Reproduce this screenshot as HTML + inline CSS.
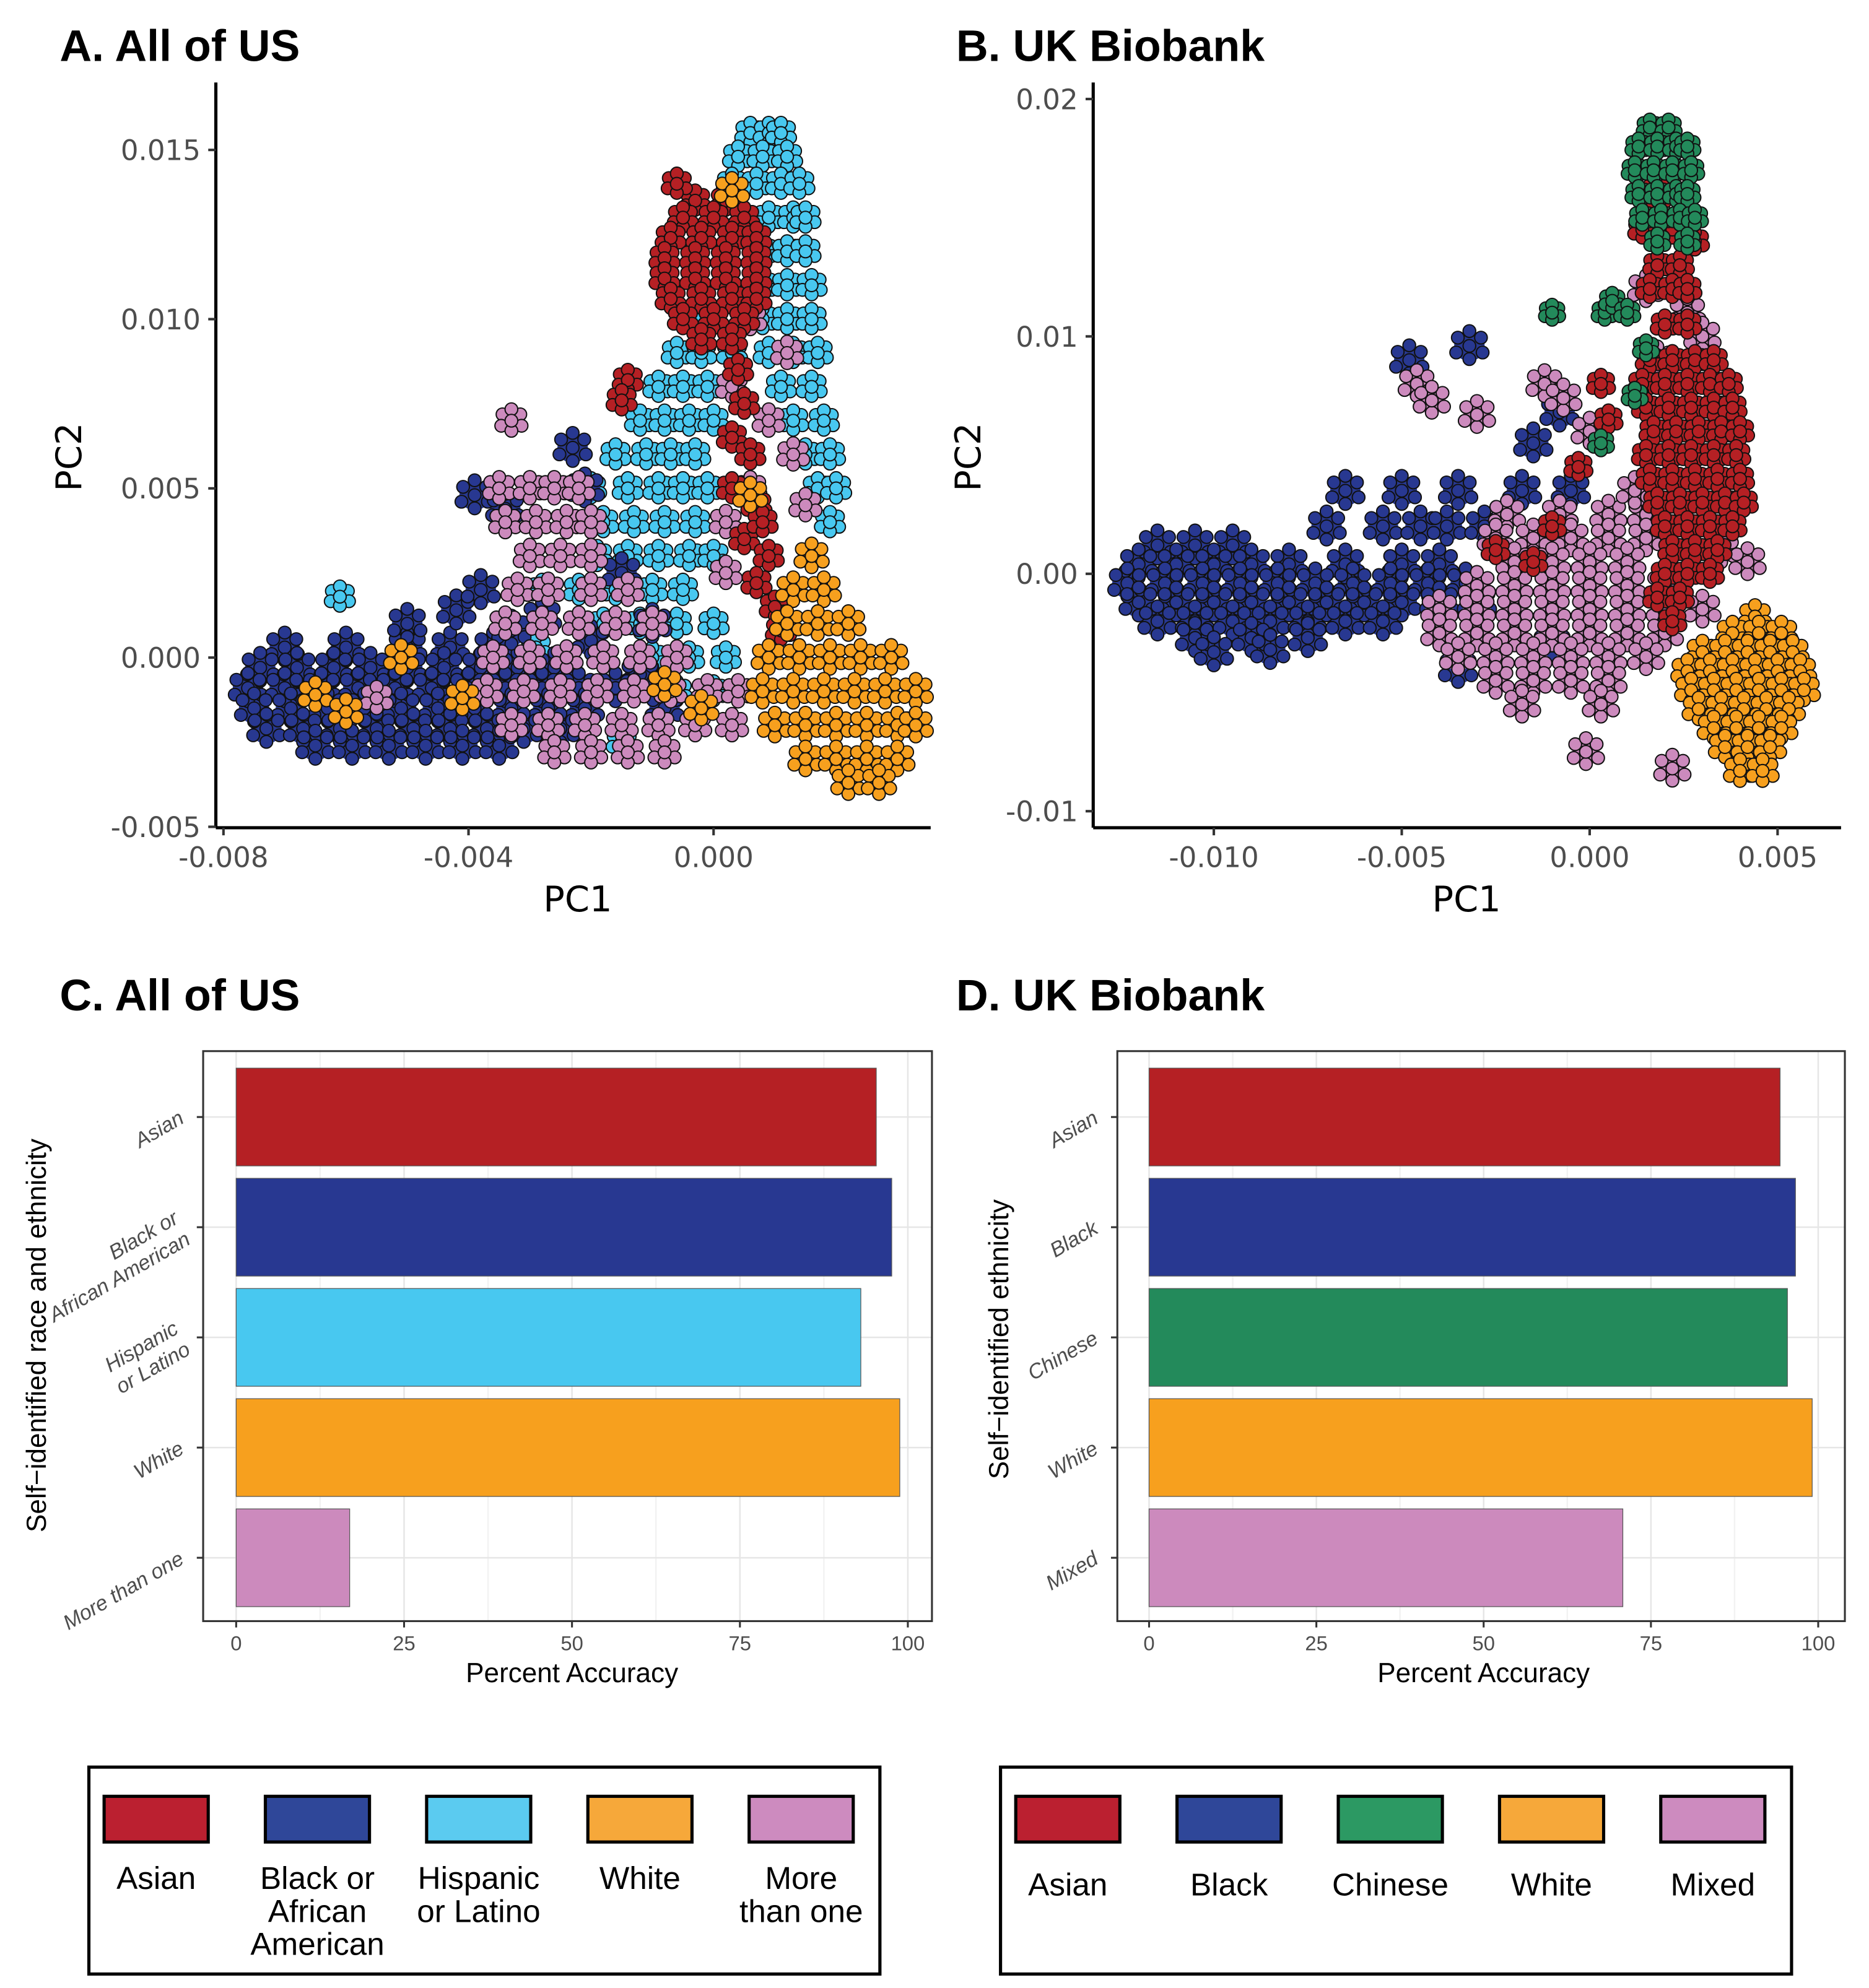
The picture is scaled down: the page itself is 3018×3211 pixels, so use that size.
<!DOCTYPE html>
<html><head><meta charset="utf-8"><style>
html,body{margin:0;padding:0;background:#fff;}
svg{display:block;font-family:"Liberation Sans",sans-serif;}
</style></head><body>
<svg id="fig" xmlns="http://www.w3.org/2000/svg" width="3018" height="3211" viewBox="0 0 1472 1566" preserveAspectRatio="none">
<rect x="0" y="0" width="1472" height="1566" fill="#fff"/>
<g id="pA"></g>
<g id="pB"></g>
<g id="pC"></g>
<g id="pD"></g>
<g id="lg"></g>
</svg>
<script>
// ===== Panel A data (PC values in units of 1e-3) =====
const aTicksX = [-8, -4, 0];
const aTickLabelsX = ["-0.008", "-0.004", "0.000"];
const aTicksY = [-5, 0, 5, 10, 15];
const aTickLabelsY = ["-0.005", "0.000", "0.005", "0.010", "0.015"];
const aCyan = [[0.6,15.5],[0.9,15.5],[1.1,15.5],[0.4,14.8],[0.8,14.8],[1.2,14.8],[0.3,14],[0.7,14],[1.1,14],[1.4,14],[0.5,13],[0.9,13],[1.3,13],[1.5,13],[0.8,12],[1.2,12],[1.5,12],[0.8,11],[1.2,11],[1.6,11],[-0.3,10],[0.8,10],[1.2,10],[1.6,10],[-0.6,9],[-0.2,9],[0.3,9],[0.9,9],[1.3,9],[1.7,9],[-0.9,8],[-0.5,8],[-0.1,8],[0.3,8],[1.1,8],[1.6,8],[-1.2,7],[-0.8,7],[-0.4,7],[0,7],[1.3,7],[1.8,7],[-1.6,6],[-1.1,6],[-0.7,6],[-0.3,6],[1.5,6],[1.9,6],[-2,5],[-1.4,5],[-0.9,5],[-0.5,5],[-0.1,5],[1.7,5],[2,5],[-2.4,4],[-1.8,4],[-1.3,4],[-0.8,4],[-0.3,4],[1.9,4],[-2.5,3],[-1.9,3],[-1.4,3],[-0.9,3],[-0.4,3],[0,3],[-2.8,2],[-2.2,2],[-1.6,2],[-1,2],[-0.5,2],[-1.8,1],[-1.2,1],[-0.6,1],[0,1],[-1,0],[-0.4,0],[0.2,0],[-0.6,-1],[0,-1],[-1.5,-2.5],[-3.5,-2.6],[-6.1,1.8],[-2.9,0.3]];
const aNavy = [[-7,0.3],[-6,0.3],[-5,0.3],[-4.3,0.3],[-3.6,0.3],[-7.4,-0.3],[-6.8,-0.3],[-6.2,-0.3],[-5.6,-0.3],[-5,-0.3],[-4.4,-0.3],[-3.8,-0.3],[-3.2,-0.3],[-2.6,-0.3],[-7.6,-0.9],[-7,-0.9],[-6.4,-0.9],[-5.8,-0.9],[-5.2,-0.9],[-4.6,-0.9],[-4,-0.9],[-3.4,-0.9],[-2.8,-0.9],[-2.2,-0.9],[-1.6,-0.9],[-7.5,-1.5],[-6.9,-1.5],[-6.3,-1.5],[-5.7,-1.5],[-5.1,-1.5],[-4.5,-1.5],[-3.9,-1.5],[-3.3,-1.5],[-2.7,-1.5],[-2.1,-1.5],[-7.3,-2.1],[-6.7,-2.1],[-6.1,-2.1],[-5.5,-2.1],[-4.9,-2.1],[-4.3,-2.1],[-3.7,-2.1],[-3.1,-2.1],[-2.5,-2.1],[-6.5,-2.6],[-5.9,-2.6],[-5.3,-2.6],[-4.7,-2.6],[-4.1,-2.6],[-3.5,-2.6],[-5,1],[-4.2,1.4],[-3.8,2],[-2.8,1.2],[-3.3,0.8],[-2,0.5],[-3.9,4.8],[-3.4,4.4],[-2.3,6.2],[-2.1,5],[-1.5,2.5],[-1,1],[-1.2,-0.5],[-0.8,-1.5]];
const aPink = [[-3.3,7],[-3.5,5],[-3,5],[-2.6,5],[-2.2,5],[-3.4,4],[-2.9,4],[-2.4,4],[-2,4],[-3,3],[-2.5,3],[-2,3],[-3.2,2],[-2.7,2],[-2,2],[-1.4,2],[-3.4,1],[-2.8,1],[-2.2,1],[-1.6,1],[-1,1],[-3.6,0],[-3,0],[-2.4,0],[-1.8,0],[-1.2,0],[-0.6,0],[-3.7,-1],[-3.1,-1],[-2.5,-1],[-1.9,-1],[-1.3,-1],[-0.7,-1],[-0.1,-1],[0.4,-1],[-3.3,-2],[-2.7,-2],[-2.1,-2],[-1.5,-2],[-0.9,-2],[-0.3,-2],[0.3,-2],[-2.6,-2.8],[-2,-2.8],[-1.4,-2.8],[-0.8,-2.8],[0.3,8],[0.9,7],[1.3,6],[0.6,5],[1.5,4.5],[0.2,4],[1.6,3],[0.2,2.5],[1.8,2],[0.6,10],[1.2,9],[-5.5,-1.2]];
const aRed = [[-0.3,13.5],[0.2,13.5],[-0.5,13],[0,13],[0.5,13],[-0.7,12.4],[-0.2,12.4],[0.3,12.4],[0.7,12.4],[-0.8,11.8],[-0.3,11.8],[0.2,11.8],[0.7,11.8],[-0.8,11.2],[-0.3,11.2],[0.2,11.2],[0.7,11.2],[-0.7,10.6],[-0.2,10.6],[0.3,10.6],[0.7,10.6],[-0.5,10],[0,10],[0.5,10],[-0.2,9.4],[0.3,9.4],[0.4,8.5],[0.5,7.5],[0.3,6.5],[0.6,6],[0.3,5],[0.7,4.5],[0.5,3.5],[0.9,3],[0.7,2.2],[1,1.5],[1.1,0.8],[0.8,4],[-1.4,8.2],[-1.5,7.6],[-0.6,14]];
const aOrange = [[1.6,3],[1.3,2],[1.8,2],[1.2,1],[1.7,1],[2.2,1],[0.9,0],[1.4,0],[1.9,0],[2.4,0],[2.9,0],[0.8,-1],[1.3,-1],[1.8,-1],[2.3,-1],[2.8,-1],[3.3,-1],[1,-2],[1.5,-2],[2,-2],[2.5,-2],[3,-2],[3.3,-2],[1.5,-3],[2,-3],[2.5,-3],[3,-3],[2.2,-3.7],[2.7,-3.7],[-0.2,-1.5],[-0.8,-0.8],[-6.5,-1.1],[-6,-1.6],[-5.1,0],[-4.1,-1.2],[0.3,13.8],[0.6,4.8]];

// ===== Panel B data (PC values in units of 1e-3) =====
const bTicksX = [-10, -5, 0, 5];
const bTickLabelsX = ["-0.010", "-0.005", "0.000", "0.005"];
const bTicksY = [-10, 0, 10, 20];
const bTickLabelsY = ["-0.01", "0.00", "0.01", "0.02"];
const bNavy = [[-11.5,1.2],[-10.5,1.2],[-9.5,1.2],[-12,0.4],[-11,0.4],[-10,0.4],[-9,0.4],[-8,0.4],[-6.5,0.4],[-5,0.4],[-4,0.4],[-12.3,-0.4],[-11.3,-0.4],[-10.3,-0.4],[-9.3,-0.4],[-8.3,-0.4],[-7.3,-0.4],[-6.3,-0.4],[-5.3,-0.4],[-4.3,-0.4],[-3.3,-0.4],[-12,-1.2],[-11,-1.2],[-10,-1.2],[-9,-1.2],[-8,-1.2],[-7,-1.2],[-6,-1.2],[-5,-1.2],[-4,-1.2],[-3,-1.2],[-11.5,-2],[-10.5,-2],[-9.5,-2],[-8.5,-2],[-7.5,-2],[-6.5,-2],[-5.5,-2],[-10.5,-2.7],[-9,-2.7],[-7.5,-2.7],[-7,2],[-5.5,2],[-4.5,2],[-3.8,2],[-2.8,2],[-6.5,3.5],[-5,3.5],[-3.5,3.5],[-1.8,3.5],[-0.5,3.5],[-4.8,9],[-3.2,9.6],[-1.5,5.5],[-0.8,6.8],[-3.5,-4],[-1,-3],[-10,-3.3],[-8.5,-3.2]];
const bPink = [[-2.2,2.5],[-0.8,2.5],[0.5,2.5],[1.5,2.5],[-2.5,1.5],[-1.5,1.5],[-0.5,1.5],[0.5,1.5],[1.5,1.5],[-2,0.5],[-1,0.5],[0,0.5],[1,0.5],[-3,-0.5],[-2,-0.5],[-1,-0.5],[0,-0.5],[1,-0.5],[2,-0.5],[-4,-1.5],[-3,-1.5],[-2,-1.5],[-1,-1.5],[0,-1.5],[1,-1.5],[2,-1.5],[3,-1.5],[-4,-2.5],[-3,-2.5],[-2,-2.5],[-1,-2.5],[0,-2.5],[1,-2.5],[2,-2.5],[-3.5,-3.5],[-2.5,-3.5],[-1.5,-3.5],[-0.5,-3.5],[0.5,-3.5],[1.5,-3.5],[-2.5,-4.5],[-1.5,-4.5],[-0.5,-4.5],[0.5,-4.5],[-1.8,-5.5],[0.3,-5.5],[-4.6,8],[-4.2,7.3],[-3,6.7],[-1.2,8],[-0.7,7.4],[0,6],[1.5,12],[1.8,9],[2.6,11],[3,10],[1.2,3.5],[2.2,-8.2],[-0.1,-7.5],[3.5,1],[4.2,0.5]];
const bRed = [[1.6,16],[2,16],[1.4,14.5],[2.2,14.5],[1.8,13],[2.4,13],[1.6,12],[2.2,12],[2.6,12],[2,10.5],[2.6,10.5],[1.6,9],[2.2,9],[2.8,9],[3.3,9],[1.4,8],[2,8],[2.6,8],[3.2,8],[3.7,8],[1.5,7],[2.1,7],[2.7,7],[3.3,7],[3.8,7],[1.7,6],[2.3,6],[2.9,6],[3.5,6],[4,6],[1.5,5],[2.1,5],[2.7,5],[3.3,5],[3.9,5],[1.6,4],[2.2,4],[2.8,4],[3.4,4],[4,4],[1.8,3],[2.4,3],[3,3],[3.6,3],[4.1,3],[2,2],[2.6,2],[3.2,2],[3.8,2],[2.2,1],[2.8,1],[3.4,1],[2,0],[2.6,0],[3.2,0],[1.8,-1],[2.4,-1],[2.2,-2],[0.3,8],[0.5,6.5],[-0.3,4.5],[-1,2],[-1.5,0.5],[-2.5,1],[2.8,14]];
const bGreen = [[1.6,18.8],[2.1,18.8],[1.3,18],[1.8,18],[2.3,18],[2.6,18],[1.2,17],[1.7,17],[2.2,17],[2.7,17],[1.3,16],[1.8,16],[2.3,16],[2.6,16],[1.4,15],[1.9,15],[2.4,15],[2.8,15],[1.8,14],[2.6,14],[-1,11],[0.4,11],[0.6,11.5],[1,11],[1.2,7.5],[1.5,9.5],[0.3,5.5]];
const bOrange = [[4.4,-1.8],[3.8,-2.5],[4.5,-2.5],[5.1,-2.5],[3,-3.3],[3.6,-3.3],[4.2,-3.3],[4.8,-3.3],[5.4,-3.3],[2.6,-4.1],[3.2,-4.1],[3.8,-4.1],[4.4,-4.1],[5,-4.1],[5.6,-4.1],[2.7,-4.9],[3.3,-4.9],[3.9,-4.9],[4.5,-4.9],[5.1,-4.9],[5.7,-4.9],[2.9,-5.7],[3.5,-5.7],[4.1,-5.7],[4.7,-5.7],[5.3,-5.7],[3.3,-6.5],[3.9,-6.5],[4.5,-6.5],[5.1,-6.5],[3.6,-7.3],[4.2,-7.3],[4.8,-7.3],[4,-8.3],[4.6,-8.3]];

// ===== Bar data =====
const cCategories = ["Asian", "Black or|African American", "Hispanic|or Latino", "White", "More than one"];
const cValues = [95.3, 97.6, 93.0, 98.8, 16.9];
const dCategories = ["Asian", "Black", "Chinese", "White", "Mixed"];
const dValues = [94.3, 96.6, 95.4, 99.1, 70.8];
const barTicks = [0, 25, 50, 75, 100];
const cColors = ["#b52024", "#283891", "#48c8f0", "#f7a01e", "#cc8abd"];
const dColors = ["#b52024", "#283891", "#238a5b", "#f7a01e", "#cc8abd"];

// ===== Legend data =====
const cLegendLabels = ["Asian", "Black or|African|American", "Hispanic|or Latino", "White", "More|than one"];
const cLegendColors = ["#bb2030", "#2f4799", "#5bcbf0", "#f6a83a", "#cd8bbf"];
const dLegendLabels = ["Asian", "Black", "Chinese", "White", "Mixed"];
const dLegendColors = ["#bb2030", "#2f4799", "#2c9963", "#f6a83a", "#cd8bbf"];

const NS = "http://www.w3.org/2000/svg";
function mk(tag, attrs, parent) {
  const e = document.createElementNS(NS, tag);
  for (const k in attrs) e.setAttribute(k, attrs[k]);
  parent.appendChild(e);
  return e;
}
// marker texture offsets (rendering style, pixel units)
const tex = [[-7,-5],[7,-5],[0,-9],[-8,4],[8,4],[0,8],[0,0]];

function scatterPanel(g, cfg) {
  const sx = v => cfg.x0px + (v - cfg.x0) * cfg.xs;
  const sy = v => cfg.y0px - (v - cfg.y0) * cfg.ys;
  const t = mk("text", {x: cfg.tx, y: 48, "font-size": 35, "font-weight": "bold", fill: "#000"}, g);
  
  
  t.textContent = cfg.title;
  cfg.series.forEach(s => {
    const ug = mk("g", {fill: s.color}, g);
    
    
    s.data.forEach(p => {
      const c = mk("circle", {cx: sx(p[0]), cy: sy(p[1]), r: s.under}, ug);
      
      
    });
    const pg = mk("g", {fill: s.color, stroke: "#111", "stroke-width": 1}, g);
    
    
    s.data.forEach(p => {
      const px = sx(p[0]), py = sy(p[1]);
      tex.forEach(o => {
        const c = mk("circle", {cx: px + o[0] * s.tx, cy: py + o[1] * s.tx, r: 5}, pg);
        
        
      });
    });
  });
  const ya = mk("line", {x1: cfg.axX, y1: 65, x2: cfg.axX, y2: 652, stroke: "#000", "stroke-width": 2.5}, g);
  
  
  const xa = mk("line", {x1: cfg.axX, y1: 652, x2: cfg.axX2, y2: 652, stroke: "#000", "stroke-width": 2.5}, g);
  
  
  cfg.ticksY.forEach((v, i) => {
    const y = sy(v);
    const tk = mk("line", {x1: cfg.axX - 6, y1: y, x2: cfg.axX, y2: y, stroke: "#333", "stroke-width": 2}, g);
    
    
    const tl = mk("text", {x: cfg.axX - 12, y: y + 8, "font-size": 22, "font-family": "DejaVu Sans, sans-serif", fill: "#4d4d4d", "text-anchor": "end"}, g);
    
    
    tl.textContent = cfg.labelsY[i];
  });
  cfg.ticksX.forEach((v, i) => {
    const x = sx(v);
    const tk = mk("line", {x1: x, y1: 652, x2: x, y2: 658, stroke: "#333", "stroke-width": 2}, g);
    
    
    const tl = mk("text", {x: x, y: 683, "font-size": 22, "font-family": "DejaVu Sans, sans-serif", fill: "#4d4d4d", "text-anchor": "middle"}, g);
    
    
    tl.textContent = cfg.labelsX[i];
  });
  const xt = mk("text", {x: cfg.xtX, y: 718, "font-size": 28, "font-family": "DejaVu Sans, sans-serif", "text-anchor": "middle", fill: "#000"}, g);
  
  
  xt.textContent = "PC1";
  const yt = mk("text", {x: 0, y: 0, "font-size": 28, "font-family": "DejaVu Sans, sans-serif", "text-anchor": "middle", fill: "#000", transform: `translate(${cfg.ytX},360) rotate(-90)`}, g);
  
  
  yt.textContent = "PC2";
}

scatterPanel(document.getElementById("pA"), {
  title: "A. All of US", tx: 47, x0: 0, x0px: 562, xs: 193 / 4, y0: 0, y0px: 518, ys: 133.3 / 5,
  axX: 170, axX2: 733, ticksX: aTicksX, labelsX: aTickLabelsX, ticksY: aTicksY, labelsY: aTickLabelsY,
  xtX: 455, ytX: 64,
  series: [
    {name: "hispanic", color: "#48c8f0", data: aCyan, under: 9, tx: 0.9},
    {name: "black", color: "#283891", data: aNavy, under: 12, tx: 1.3},
    {name: "more-than-one", color: "#cc8abd", data: aPink, under: 9, tx: 1.0},
    {name: "asian", color: "#b52024", data: aRed, under: 9, tx: 0.9},
    {name: "white", color: "#f7a01e", data: aOrange, under: 10, tx: 1.1}
  ]
});
scatterPanel(document.getElementById("pB"), {
  title: "B. UK Biobank", tx: 753, x0: 0, x0px: 1252, xs: 148 / 5, y0: 0, y0px: 452, ys: 18.7,
  axX: 861, axX2: 1450, ticksX: bTicksX, labelsX: bTickLabelsX, ticksY: bTicksY, labelsY: bTickLabelsY,
  xtX: 1155, ytX: 772,
  series: [
    {name: "black", color: "#283891", data: bNavy, under: 12, tx: 1.3},
    {name: "mixed", color: "#cc8abd", data: bPink, under: 11, tx: 1.2},
    {name: "asian", color: "#b52024", data: bRed, under: 8, tx: 0.8},
    {name: "chinese", color: "#238a5b", data: bGreen, under: 7, tx: 0.7},
    {name: "white", color: "#f7a01e", data: bOrange, under: 9, tx: 1.0}
  ]
});

function barPanel(g, cfg) {
  const sx = v => cfg.x0 + v * cfg.unit;
  const t = mk("text", {x: cfg.tx, y: 796, "font-size": 35, "font-weight": "bold", fill: "#000"}, g);
  
  
  t.textContent = cfg.title;
  const top = 828, bot = 1277;
  for (let v = 0; v <= 100; v += 12.5) {
    const gl = mk("line", {x1: sx(v), y1: top, x2: sx(v), y2: bot, stroke: v % 25 === 0 ? "#e6e6e6" : "#f2f2f2", "stroke-width": 1.2}, g);
    
    
  }
  const bandTop = 836.5, band = 86.8, barH = 77;
  cfg.cats.forEach((c, i) => {
    const cy = bandTop + band * (i + 0.5);
    const gl = mk("line", {x1: cfg.bx1, y1: cy, x2: cfg.bx2, y2: cy, stroke: "#e6e6e6", "stroke-width": 1.2}, g);
    
    
  });
  cfg.cats.forEach((c, i) => {
    const cy = bandTop + band * (i + 0.5);
    const b = mk("rect", {x: sx(0), y: cy - barH / 2, width: sx(cfg.vals[i]) - sx(0), height: barH, fill: cfg.colors[i], stroke: "#555", "stroke-width": 0.6}, g);
    
    
    const tk = mk("line", {x1: cfg.bx1 - 5, y1: cy, x2: cfg.bx1, y2: cy, stroke: "#333", "stroke-width": 1.5}, g);
    
    
    const lines = c.split("|");
    const tl = mk("text", {x: 0, y: 0, "font-size": 16.5, "font-style": "italic", fill: "#4d4d4d", "text-anchor": "end", transform: `translate(${cfg.bx1 - 14},${cy + 4}) rotate(-30)`}, g);
    
    
    lines.forEach((ln, j) => {
      const ts = mk("tspan", {x: 0, dy: j === 0 ? -(lines.length - 1) * 9 : 19}, tl);
      ts.textContent = ln;
    });
  });
  const box = mk("rect", {x: cfg.bx1, y: top, width: cfg.bx2 - cfg.bx1, height: bot - top, fill: "none", stroke: "#333", "stroke-width": 1.5}, g);
  
  
  barTicks.forEach(v => {
    const tk = mk("line", {x1: sx(v), y1: bot, x2: sx(v), y2: bot + 5, stroke: "#333", "stroke-width": 1.5}, g);
    
    
    const tl = mk("text", {x: sx(v), y: 1300, "font-size": 16, fill: "#4d4d4d", "text-anchor": "middle"}, g);
    
    
    tl.textContent = v;
  });
  const xt = mk("text", {x: (sx(0) + sx(100)) / 2, y: 1325, "font-size": 21.5, "text-anchor": "middle", fill: "#000"}, g);
  
  
  xt.textContent = "Percent Accuracy";
  const yt = mk("text", {x: 0, y: 0, "font-size": 21.5, "text-anchor": "middle", fill: "#000", transform: `translate(${cfg.ytX},${cfg.ytY}) rotate(-90)`}, g);
  
  
  yt.textContent = cfg.ytitle;
}
barPanel(document.getElementById("pC"), {title: "C. All of US", tx: 47, x0: 186, unit: 5.29, bx1: 160, bx2: 734, cats: cCategories, vals: cValues, colors: cColors, ytX: 36, ytY: 1052, ytitle: "Self\u2212identified race and ethnicity"});
barPanel(document.getElementById("pD"), {title: "D. UK Biobank", tx: 753, x0: 905, unit: 5.27, bx1: 880, bx2: 1453, cats: dCategories, vals: dValues, colors: dColors, ytX: 794, ytY: 1055, ytitle: "Self\u2212identified ethnicity"});

function legend(g, x0, labels, colors, name) {
  const box = mk("rect", {x: x0, y: 1392, width: 623, height: 163, fill: "none", stroke: "#000", "stroke-width": 2.5}, g);
  
  
  labels.forEach((lab, i) => {
    const sx = x0 + 12 + i * 127;
    const r = mk("rect", {x: sx, y: 1415, width: 82, height: 36, fill: colors[i], stroke: "#000", "stroke-width": 2.5}, g);
    
    
    const lines = lab.split("|");
    const base = lines.length === 1 ? (name === "d" ? 1493 : 1488) : 1488;
    const t = mk("text", {x: sx + 41, y: base, "font-size": 25, "text-anchor": "middle", fill: "#000"}, g);
    
    
    lines.forEach((ln, j) => {
      const ts = mk("tspan", {x: sx + 41, dy: j === 0 ? 0 : 26}, t);
      ts.textContent = ln;
    });
  });
}
const lg = document.getElementById("lg");
legend(lg, 70, cLegendLabels, cLegendColors, "c");
legend(lg, 788, dLegendLabels, dLegendColors, "d");
</script>
</body></html>
